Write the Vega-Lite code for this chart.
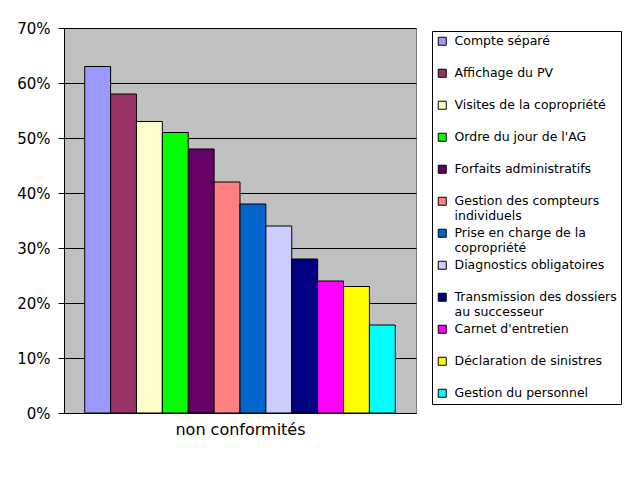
{
  "$schema": "https://vega.github.io/schema/vega-lite/v6.json",
  "width": 352,
  "height": 385,
  "autosize": {"type": "none"},
  "padding": {"left": 64, "top": 28, "right": 224, "bottom": 67},
  "background": "white",
  "data": {
    "values": [
      {"categorie": "Compte séparé", "taux": 0.63},
      {"categorie": "Affichage du PV", "taux": 0.58},
      {"categorie": "Visites de la copropriété", "taux": 0.53},
      {"categorie": "Ordre du jour de l'AG", "taux": 0.51},
      {"categorie": "Forfaits administratifs", "taux": 0.48},
      {"categorie": "Gestion des compteurs|individuels", "taux": 0.42},
      {"categorie": "Prise en charge de la|copropriété", "taux": 0.38},
      {"categorie": "Diagnostics obligatoires", "taux": 0.34},
      {"categorie": "Transmission des dossiers|au successeur", "taux": 0.28},
      {"categorie": "Carnet d'entretien", "taux": 0.24},
      {"categorie": "Déclaration de sinistres", "taux": 0.23},
      {"categorie": "Gestion du personnel", "taux": 0.16}
    ]
  },
  "mark": {"type": "bar", "stroke": "black", "strokeWidth": 1},
  "encoding": {
    "x": {
      "field": "categorie",
      "type": "nominal",
      "sort": null,
      "scale": {"paddingInner": 0, "paddingOuter": 0.8},
      "axis": {
        "labels": false,
        "ticks": false,
        "title": "non conformités",
        "titleFont": "DejaVu Sans",
        "titleFontSize": 16,
        "titleFontWeight": "normal",
        "titleColor": "black",
        "titlePadding": 8,
        "domainColor": "black"
      }
    },
    "y": {
      "field": "taux",
      "type": "quantitative",
      "scale": {"domain": [0, 0.7], "nice": false},
      "axis": {
        "values": [0, 0.1, 0.2, 0.3, 0.4, 0.5, 0.6, 0.7],
        "format": ".0%",
        "title": null,
        "grid": true,
        "gridColor": "black",
        "gridOpacity": 1,
        "gridWidth": 1,
        "domainColor": "black",
        "tickColor": "black",
        "tickSize": 6,
        "labelFont": "DejaVu Sans",
        "labelFontSize": 15,
        "labelColor": "black",
        "labelPadding": 8
      }
    },
    "color": {
      "field": "categorie",
      "type": "nominal",
      "sort": null,
      "scale": {
        "range": ["#9999FF", "#993366", "#FFFFCC", "#00FF00", "#660066", "#FF8080", "#0066CC", "#CCCCFF", "#000080", "#FF00FF", "#FFFF00", "#00FFFF"]
      },
      "legend": {
        "orient": "none",
        "legendX": 368,
        "legendY": 3,
        "title": null,
        "labelExpr": "split(datum.label, '|')",
        "labelFont": "DejaVu Sans",
        "labelFontSize": 12.5,
        "labelColor": "black",
        "labelLimit": 300,
        "labelOffset": 6,
        "symbolType": "square",
        "symbolSize": 64,
        "symbolStrokeColor": "black",
        "symbolStrokeWidth": 1,
        "strokeColor": "black",
        "padding": 4,
        "gridAlign": "all",
        "rowPadding": 4
      }
    }
  },
  "config": {
    "view": {"fill": "#C0C0C0", "stroke": "#808080", "strokeWidth": 1},
    "axis": {"domainWidth": 1, "tickWidth": 1}
  }
}
